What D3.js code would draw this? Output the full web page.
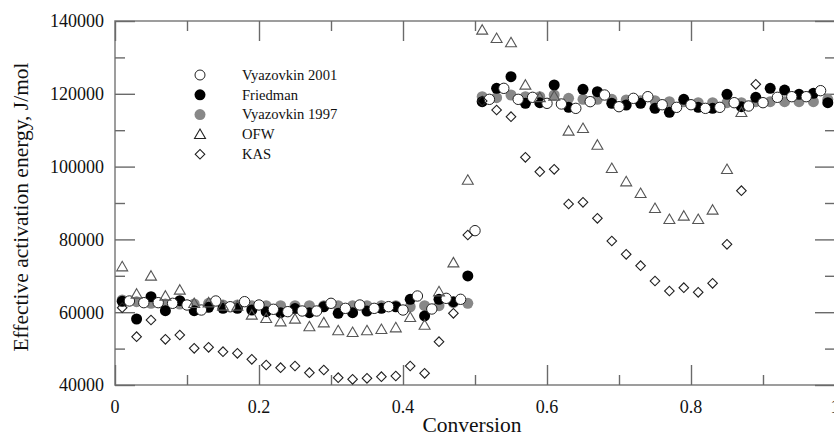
<!DOCTYPE html>
<html>
<head>
<meta charset="utf-8">
<script src="https://cdn.jsdelivr.net/npm/d3@7"></script>
<style>
  body { margin: 0; background: #fff; }
  svg text { font-family: "Liberation Serif", "Times New Roman", serif; fill: #111; }
</style>
</head>
<body>
<svg id="chart" width="834" height="437"></svg>
<script>
//Conversion values: odd hundredths for most methods, even hundredths for Vyazovkin 2001
var convOdd = [0.01,0.03,0.05,0.07,0.09,0.11,0.13,0.15,0.17,0.19,0.21,0.23,0.25,0.27,0.29,0.31,0.33,0.35,0.37,0.39,
  0.41,0.43,0.45,0.47,0.49,0.51,0.53,0.55,0.57,0.59,0.61,0.63,0.65,0.67,0.69,0.71,0.73,0.75,0.77,0.79,
  0.81,0.83,0.85,0.87,0.89,0.91,0.93,0.95,0.97,0.99];
var convEven = [0.02,0.04,0.06,0.08,0.10,0.12,0.14,0.16,0.18,0.20,0.22,0.24,0.26,0.28,0.30,0.32,0.34,0.36,0.38,0.40,
  0.42,0.44,0.46,0.48,0.50,0.52,0.54,0.56,0.58,0.60,0.62,0.64,0.66,0.68,0.70,0.72,0.74,0.76,0.78,0.80,
  0.82,0.84,0.86,0.88,0.90,0.92,0.94,0.96,0.98];

//Effective activation energy, J/mol
var vyazovkin2001 = [63080,62620,62620,62440,61980,60600,63080,61500,62890,61980,60800,60150,60330,60330,62440,61060,61980,61060,61520,60600,
  64450,60880,63810,63540,82400,118480,121500,118480,119030,117380,117200,116000,117840,119670,116460,118750,119210,117000,116280,117000,
  116000,116280,117560,116650,117560,119030,119210,119210,120860];
var friedman = [63000,58130,64270,60420,63170,60420,61340,61060,61060,60600,60150,59870,61000,59870,61500,59690,59870,60330,61060,61500,
  63540,58960,63540,62890,69950,117840,121500,124710,117380,117560,122420,116280,121230,120590,117380,116920,117380,116000,114910,118480,
  116280,116000,119850,116460,119030,121500,121040,119850,120130,117560];
var vyazovkin1997 = [63350,62890,62440,62250,62250,62250,62440,61980,61980,61800,61800,61800,61800,61800,61800,61800,61800,61800,61800,61800,
  61500,61800,61800,62620,62440,119210,118940,119670,119210,119210,119670,118750,118480,118480,118480,118300,118110,118110,117840,117840,
  117560,117560,117560,117560,117840,117840,117840,117840,117840,118480];
var ofw = [72510,65000,69950,64450,66100,62440,62620,61700,61700,59230,58320,57400,58130,56030,57120,54930,54470,54930,55290,55750,
  58590,56480,65640,73600,96300,137530,135240,134050,122420,119000,119400,109780,110510,105930,99520,95860,92660,88530,85510,86430,
  85510,88080,99250,114910];
var kas = [61250,53280,57860,52550,53740,50070,50350,49160,48700,47050,45490,44760,45220,43390,44120,42010,41560,41830,42290,42470,
  45220,43200,51900,59690,81200,118000,115550,113720,102550,98610,99250,89725,90180,85790,79560,75900,72780,68570,65820,66740,
  65460,67930,78650,93390,122600];

var seriesNames = ["Vyazovkin 2001", "Friedman", "Vyazovkin 1997", "OFW", "KAS"];
var xTickLabels = ["0", "0.2", "0.4", "0.6", "0.8", "1"];
var yTickLabels = ["40000", "60000", "80000", "100000", "120000", "140000"];

var svg = d3.select("svg#chart");
var plotLeft = 115, plotRight = 835, plotTop = 21, plotBottom = 385;

var x = d3.scaleLinear().domain([0, 1]).range([plotLeft, plotRight]);
var y = d3.scaleLinear().domain([40000, 140000]).range([plotBottom, plotTop]);

var frameColor = "#858585";
var tickColor = "#6a6a6a";

//Plot frame
svg.append("rect")
    .attr("x", plotLeft).attr("y", plotTop)
    .attr("width", plotRight - plotLeft).attr("height", plotBottom - plotTop)
    .attr("fill", "none")
    .attr("stroke", frameColor)
    .attr("stroke-width", 1.6);

//Inward ticks on all four sides, long ones at labelled values
var xMajor = d3.range(0, 1.001, 0.2), xMinor = d3.range(0.1, 1, 0.2);
var yMajor = d3.range(40000, 140001, 20000), yMinor = d3.range(50000, 140000, 20000);

function drawTicks(axisFn, scale, pos, values, size) {
  var g = svg.append("g")
      .attr("transform", pos)
      .call(axisFn(scale).tickValues(values).tickSize(-size).tickFormat(""));
  g.select(".domain").remove();
  g.selectAll("line").attr("stroke", tickColor).attr("stroke-width", 1.4);
}
drawTicks(d3.axisBottom, x, "translate(0," + plotBottom + ")", xMajor, 20);
drawTicks(d3.axisBottom, x, "translate(0," + plotBottom + ")", xMinor, 10);
drawTicks(d3.axisTop, x, "translate(0," + plotTop + ")", xMajor, 20);
drawTicks(d3.axisTop, x, "translate(0," + plotTop + ")", xMinor, 10);
drawTicks(d3.axisLeft, y, "translate(" + plotLeft + ",0)", yMajor, 20);
drawTicks(d3.axisLeft, y, "translate(" + plotLeft + ",0)", yMinor, 10);
drawTicks(d3.axisRight, y, "translate(" + plotRight + ",0)", yMajor, 20);
drawTicks(d3.axisRight, y, "translate(" + plotRight + ",0)", yMinor, 10);

//Tick labels
svg.append("g").selectAll("text")
  .data(xTickLabels)
  .enter().append("text")
    .attr("x", function (d) { return x(+d); })
    .attr("y", 413)
    .attr("text-anchor", "middle")
    .style("font-size", "18px")
    .text(function (d) { return d; });

svg.append("g").selectAll("text")
  .data(yTickLabels)
  .enter().append("text")
    .attr("x", 104)
    .attr("y", function (d) { return y(+d); })
    .attr("dy", "0.35em")
    .attr("text-anchor", "end")
    .style("font-size", "18px")
    .text(function (d) { return d; });

//Axis titles
svg.append("text")
    .attr("x", 472).attr("y", 432)
    .attr("text-anchor", "middle")
    .style("font-size", "21.5px")
    .text("Conversion");

svg.append("text")
    .attr("transform", "translate(28,207) rotate(-90)")
    .attr("text-anchor", "middle")
    .style("font-size", "21.5px")
    .text("Effective activation energy, J/mol");

//Marker styles
var triangle = d3.symbol().type(d3.symbolTriangle).size(52);
var diamond = d3.symbol().type(d3.symbolSquare).size(46);

function pairs(xs, ys) {
  return ys.map(function (v, i) { return [xs[i], v]; });
}

var plot = svg.append("g");

//Vyazovkin 1997 - grey dots
plot.append("g").selectAll("circle")
  .data(pairs(convOdd, vyazovkin1997))
  .enter().append("circle")
    .attr("cx", function (d) { return x(d[0]); })
    .attr("cy", function (d) { return y(d[1]); })
    .attr("r", 5.5)
    .attr("fill", "#888");

//Friedman - black dots
plot.append("g").selectAll("circle")
  .data(pairs(convOdd, friedman))
  .enter().append("circle")
    .attr("cx", function (d) { return x(d[0]); })
    .attr("cy", function (d) { return y(d[1]); })
    .attr("r", 5.5)
    .attr("fill", "#000");

//Vyazovkin 2001 - open circles
plot.append("g").selectAll("circle")
  .data(pairs(convEven, vyazovkin2001))
  .enter().append("circle")
    .attr("cx", function (d) { return x(d[0]); })
    .attr("cy", function (d) { return y(d[1]); })
    .attr("r", 5.2)
    .attr("fill", "#fff")
    .attr("stroke", "#222")
    .attr("stroke-width", 1);

//OFW - open triangles
plot.append("g").selectAll("path")
  .data(pairs(convOdd, ofw))
  .enter().append("path")
    .attr("d", triangle)
    .attr("transform", function (d) { return "translate(" + x(d[0]) + "," + (y(d[1]) + 1) + ")"; })
    .attr("fill", "none")
    .attr("stroke", "#555")
    .attr("stroke-width", 1.1);

//KAS - open diamonds
plot.append("g").selectAll("path")
  .data(pairs(convOdd, kas))
  .enter().append("path")
    .attr("d", diamond)
    .attr("transform", function (d) { return "translate(" + x(d[0]) + "," + y(d[1]) + ") rotate(45)"; })
    .attr("fill", "none")
    .attr("stroke", "#222")
    .attr("stroke-width", 1.1);

//Legend
var legend = svg.append("g").attr("transform", "translate(200,75)");
var rows = legend.selectAll("g")
  .data(seriesNames)
  .enter().append("g")
    .attr("transform", function (d, i) { return "translate(0," + i * 19.8 + ")"; });

rows.append("text")
    .attr("x", 42)
    .attr("dy", "0.33em")
    .style("font-size", "14.6px")
    .text(function (d) { return d; });

rows.each(function (d, i) {
  var g = d3.select(this);
  if (i == 0) g.append("circle").attr("r", 5).attr("fill", "#fff").attr("stroke", "#222");
  if (i == 1) g.append("circle").attr("r", 5.5).attr("fill", "#000");
  if (i == 2) g.append("circle").attr("r", 5.5).attr("fill", "#888");
  if (i == 3) g.append("path").attr("d", triangle).attr("transform", "translate(0,1)")
      .attr("fill", "none").attr("stroke", "#222").attr("stroke-width", 1.1);
  if (i == 4) g.append("path").attr("d", diamond).attr("transform", "rotate(45)")
      .attr("fill", "none").attr("stroke", "#222").attr("stroke-width", 1.1);
});
</script>
</body>
</html>
